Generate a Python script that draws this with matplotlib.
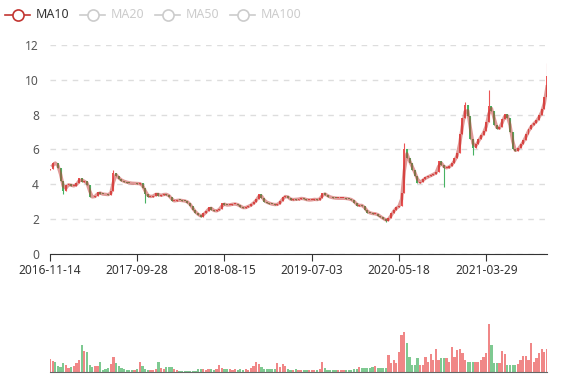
import numpy as np
import pandas as pd
import matplotlib
matplotlib.use("Agg")
import matplotlib.pyplot as plt
from matplotlib.lines import Line2D

# weekly-ish closes (about 7 trading days per point)
closes = [
    4.9, 5.25, 5.2, 4.95, 4.2, 3.6, 3.95, 4.0, 3.9, 3.92,
    4.05, 4.35, 4.15, 4.2, 3.95, 3.3, 3.25, 3.35, 3.55, 3.45,
    3.43, 3.42, 3.4, 3.6, 4.65, 4.45, 4.3, 4.2, 4.15, 4.1,
    4.08, 4.05, 4.06, 4.03, 4.05, 3.8, 3.45, 3.3, 3.3, 3.35,
    3.5, 3.35, 3.38, 3.45, 3.4, 3.3, 3.05, 3.05, 3.1, 3.08,
    3.06, 3.03, 2.95, 2.75, 2.5, 2.35, 2.22, 2.15, 2.35, 2.45,
    2.7, 2.55, 2.45, 2.5, 2.6, 2.9, 2.82, 2.8, 2.84, 2.87,
    2.87, 2.8, 2.7, 2.63, 2.7, 2.76, 2.85, 3.0, 3.15, 3.45,
    3.2, 3.0, 2.95, 2.88, 2.85, 2.83, 2.86, 3.05, 3.25, 3.35,
    3.2, 3.1, 3.15, 3.12, 3.18, 3.2, 3.15, 3.1, 3.1, 3.12,
    3.15, 3.1, 3.2, 3.5, 3.4, 3.3, 3.25, 3.22, 3.2, 3.2,
    3.2, 3.2, 3.18, 3.15, 3.1, 2.95, 2.78, 2.8, 2.78, 2.55,
    2.38, 2.35, 2.3, 2.32, 2.2, 2.1, 2.0, 1.92, 2.05, 2.35,
    2.55, 2.7, 2.78, 3.5, 6.0, 5.5, 5.2, 4.85, 4.5, 4.1,
    4.15, 4.3, 4.4, 4.45, 4.55, 4.6, 4.7, 5.35, 5.1, 4.95,
    4.95, 5.05, 5.2, 5.5, 5.8, 6.9, 7.8, 8.55, 7.9, 6.6,
    6.1, 6.3, 6.6, 6.85, 7.05, 7.6, 8.5, 8.2, 7.4, 7.15,
    7.3, 7.75, 8.05, 7.8, 7.0, 6.0, 5.9, 6.1, 6.3, 6.55,
    6.9, 7.2, 7.4, 7.55, 7.7, 8.0, 8.3, 9.0, 10.2,
]
first_open = 4.85
volumes = [
    13, 11, 10, 6, 5.7, 9, 7, 4, 5, 6,
    9, 12, 27, 21, 20, 7, 5, 6, 6, 10.7,
    2.5, 3, 4, 8, 15.7, 9, 6, 4, 3, 2.3,
    2, 2, 2.5, 3, 10, 6, 3, 2.3, 2, 2,
    3, 10, 4, 3, 5, 5, 5, 3, 2, 1.7,
    1.7, 1.7, 1.7, 1.7, 1.7, 1.7, 3, 3, 3, 2.5,
    3, 3, 2.5, 3, 7.3, 4, 3, 3, 3, 2.5,
    3, 2.5, 3, 2.5, 3, 2.5, 4, 6, 10.7, 8.3,
    5, 3, 3, 3, 3, 3, 9, 5, 8.3, 6,
    3, 2.3, 2.3, 3, 2.3, 2.3, 2.3, 2, 2.3, 2.3,
    2.3, 2.3, 3, 10, 4, 2.3, 2.3, 2.3, 2.3, 2.3,
    2.3, 2.5, 2.3, 2.3, 2.3, 3, 3, 5.7, 4, 4,
    4, 4, 5, 6.3, 4, 4, 4, 4, 17.3, 9,
    12.3, 9, 20.7, 37.3, 40.7, 29, 15.7, 7.3, 7.3, 14,
    7.3, 7.3, 15.7, 10, 18.3, 12, 23, 12.3, 14, 14,
    14, 10, 25, 15, 22.3, 23, 19, 12, 10.7, 10.7,
    10.7, 10.7, 10.7, 12.3, 15, 19.7, 48.3, 27.3, 9.7, 9.7,
    9.7, 21.3, 18, 7.3, 7.3, 7.3, 7.3, 8, 12.3, 16.3,
    16.3, 12, 29, 10.7, 14, 19, 23, 20, 23,
]
# notable wicks visible in the chart
wick_highs = {1: 5.3, 24: 4.85, 134: 6.4, 157: 8.75, 166: 9.4, 188: 10.95}
wick_lows = {5: 3.45, 36: 2.95, 127: 1.85, 149: 3.85, 160: 5.7}

tick_labels = ['2016-11-14', '2017-09-28', '2018-08-15',
               '2019-07-03', '2020-05-18', '2021-03-29']
tick_step = 33
y_ticks = [0, 2, 4, 6, 8, 10, 12]
legend_names = ['MA10', 'MA20', 'MA50', 'MA100']

up_color = '#eb5454'
down_color = '#47b262'
ma_color = '#c23531'

plt.rcParams['font.family'] = ['Noto Sans', 'DejaVu Sans']

c = np.array(closes)
o = np.concatenate([[first_open], c[:-1]])
hi = np.maximum(o, c)
lo = np.minimum(o, c)
for k, v in wick_highs.items():
    hi[k] = v
for k, v in wick_lows.items():
    lo[k] = v
x = np.arange(len(c))
colors = [up_color if cc >= oo else down_color for oo, cc in zip(o, c)]
ma10 = pd.Series(c).rolling(2).mean()

W, H = 577, 380
fig = plt.figure(figsize=(W / 100, H / 100), dpi=100)
fig.set_facecolor('white')

ax = fig.add_axes([50 / W, 1 - 254 / H, 497 / W, 209 / H])
ax.vlines(x, lo, hi, colors=colors, linewidth=0.8, zorder=2)
ax.bar(x, np.maximum(np.abs(c - o), 0.05), bottom=np.minimum(o, c),
       width=0.75, color=colors, zorder=2)
ax.plot(x, ma10, color=ma_color, alpha=0.5, linewidth=2.4, zorder=3)
ax.set_xlim(0, len(c) - 1)
ax.set_ylim(0, 12)
ax.set_yticks(y_ticks)
ax.set_xticks(x[::tick_step][:len(tick_labels)])
ax.set_xticklabels(tick_labels)
ax.grid(axis='y', linestyle=(0, (4, 4)), color='#dddddd', linewidth=1)
ax.set_axisbelow(True)
for s in ['top', 'right', 'left']:
    ax.spines[s].set_visible(False)
ax.spines['bottom'].set_color('#333333')
ax.tick_params(axis='y', length=0, pad=8, labelsize=8.6, labelcolor='#555555')
ax.tick_params(axis='x', length=5, color='#333333', pad=2, labelsize=8.6,
               labelcolor='#333333')

axv = fig.add_axes([50 / W, 1 - 372.3 / H, 497 / W, 52.3 / H])
axv.bar(x, volumes, width=0.85, color=colors, alpha=0.7)
axv.set_xlim(0, len(c) - 1)
axv.set_ylim(0, 52.3)
axv.set_xticks([])
axv.set_yticks([])
for s in ['top', 'right', 'left']:
    axv.spines[s].set_visible(False)
axv.spines['bottom'].set_color('#666666')

# legend drawn in pixel space
lg = fig.add_axes([0, 0, 1, 1])
lg.set_xlim(0, W)
lg.set_ylim(H, 0)
lg.axis('off')
icon_x = [5, 80, 155, 230]
for i, (name, ix) in enumerate(zip(legend_names, icon_x)):
    col = ma_color if i == 0 else '#cccccc'
    tcol = '#333333' if i == 0 else '#cccccc'
    lg.add_line(Line2D([ix, ix + 25], [15, 15], color=col, linewidth=1.2))
    lg.plot(ix + 13, 15, 'o', markersize=8, markerfacecolor='white',
            markeredgecolor=col, markeredgewidth=1.2)
    lg.text(ix + 31, 15, name, color=tcol, fontsize=9, va='center', ha='left')

fig.savefig('out.png', dpi=100)
